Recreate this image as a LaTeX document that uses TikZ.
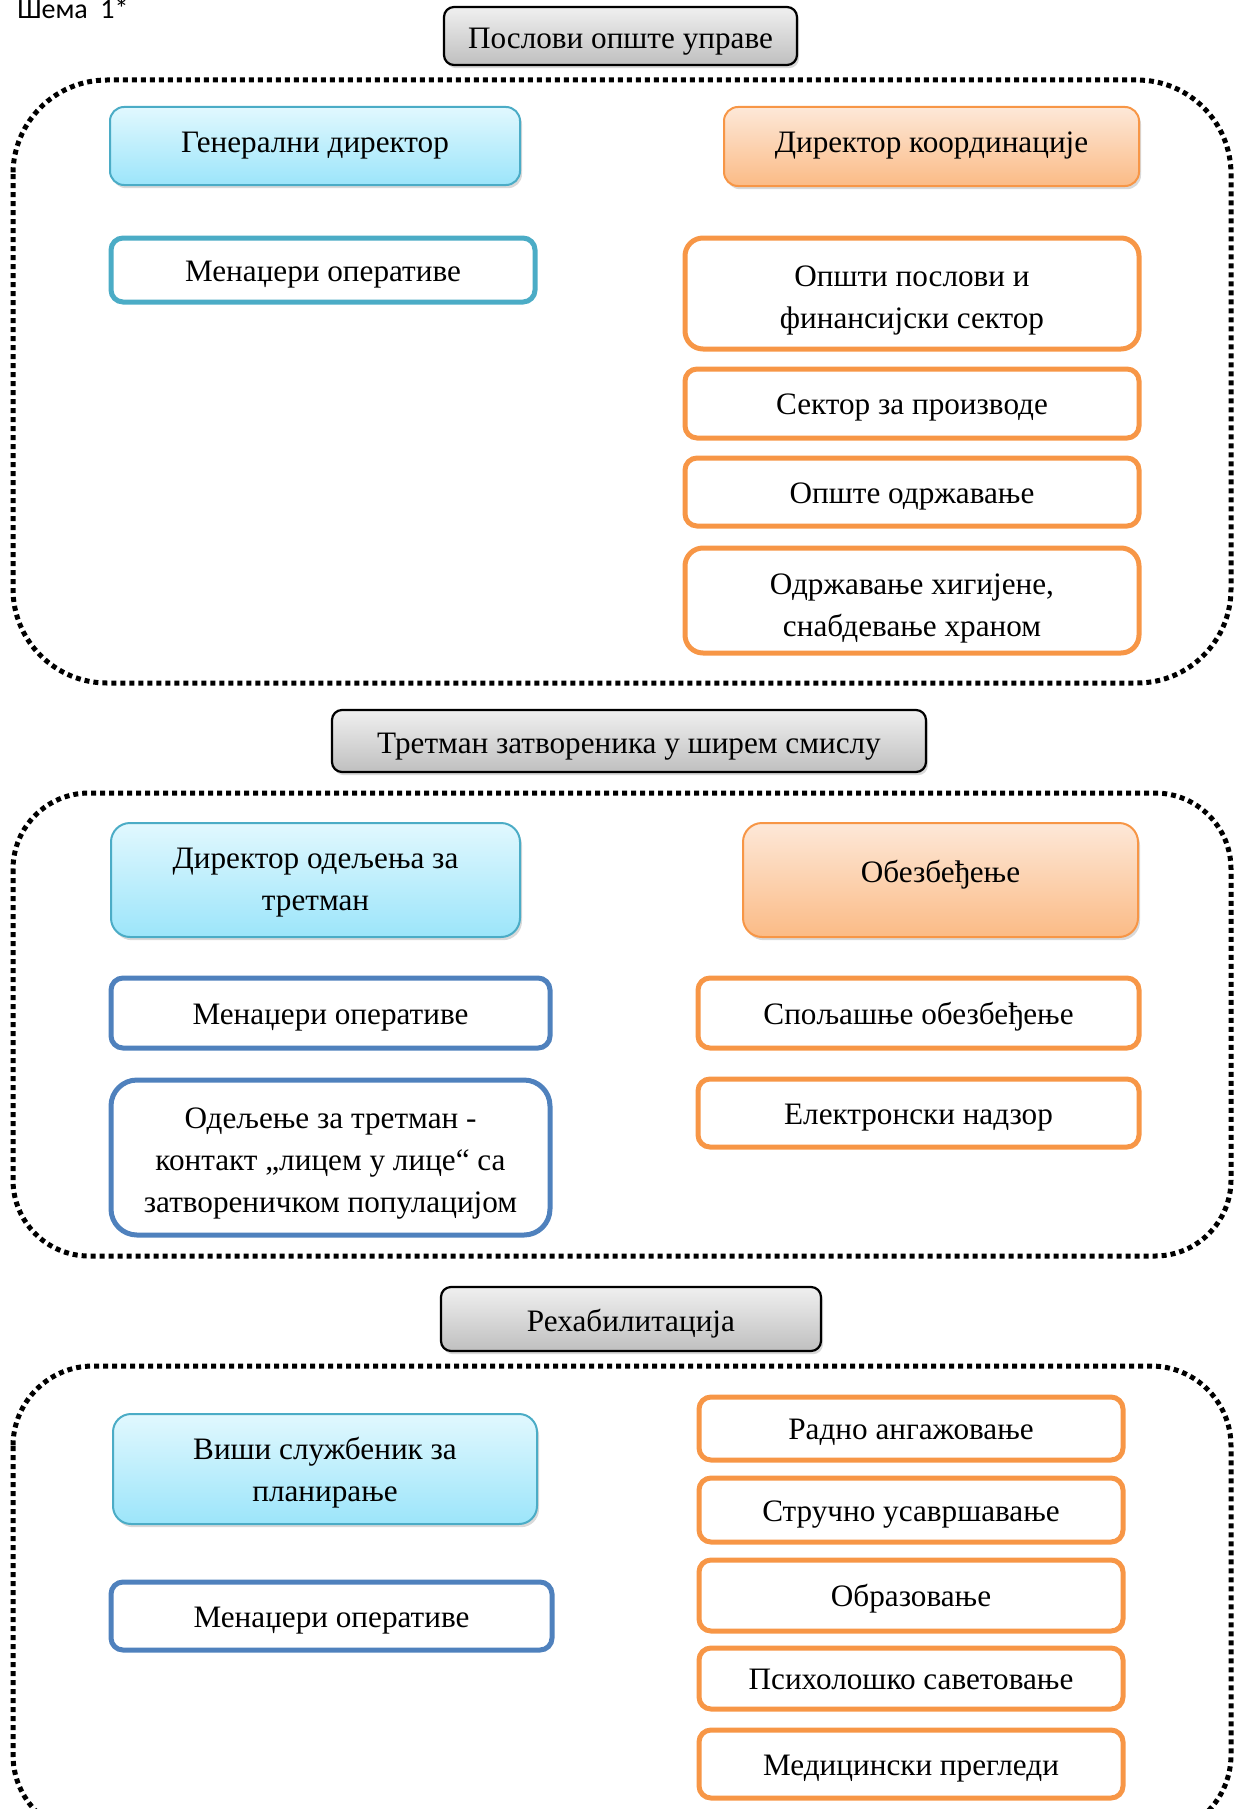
\documentclass[tikz,border=0pt]{standalone}
\usepackage{fontspec}
\setmainfont{Liberation Serif}
\newfontfamily\calib{Carlito}
\usetikzlibrary{shadows}

\definecolor{cyanline}{HTML}{4BACC6}
\definecolor{cyantop}{HTML}{E1F8FE}
\definecolor{cyanbot}{HTML}{9CE5FA}
\definecolor{orangeline}{HTML}{F79646}
\definecolor{orangetop}{HTML}{FDE8D8}
\definecolor{orangebot}{HTML}{FBBB86}
\definecolor{blueline}{HTML}{4F81BD}

% struts that set where the text sits in a box
\newlength\tsth \newlength\tstd
\newcommand\topstrut{\rule[-\tstd]{0pt}{\dimexpr\tsth+\tstd\relax}}
\newcommand\botstrut{\rule[-3.5pt]{0pt}{3.5pt}}
\newcommand\firstln[1]{\rule{0pt}{#1}}

\tikzset{
  tsh/.code={\setlength\tsth{#1}},
  tsd/.code={\setlength\tstd{#1}},
  sect/.style={draw=black, line width=2.5pt, dash pattern=on 2.5pt off 2pt},
  lbl/.style={font=\fontsize{15.6}{21}\selectfont, align=center, inner sep=0pt,
    tsh=14.7pt, tsd=3.5pt, execute at begin node=\topstrut, execute at end node=\botstrut},
  shad/.style={drop shadow={shadow xshift=1pt, shadow yshift=-1.6pt, opacity=0.3}},
  headbox/.style={lbl, tsh=16.1pt, shad, draw=black, line width=1.1pt, rounded corners=5pt, top color=gray!12, bottom color=gray!50},
  cyanbox/.style={lbl, tsh=11.5pt, tsd=5.5pt, shad, draw=cyanline, line width=1pt, rounded corners=7pt, top color=cyantop, bottom color=cyanbot},
  orangebox/.style={lbl, tsh=11.5pt, tsd=5.5pt, shad, draw=orangeline, line width=1pt, rounded corners=7pt, top color=orangetop, bottom color=orangebot},
  cyanframe/.style={lbl, draw=cyanline, line width=2.5pt, rounded corners=6pt, fill=white},
  blueframe/.style={lbl, draw=blueline, line width=2.5pt, rounded corners=6pt, fill=white},
  orangeframe/.style={lbl, draw=orangeline, line width=2.5pt, rounded corners=6pt, fill=white}
}

\begin{document}
\begin{tikzpicture}[x=0.5pt,y=-0.5pt]
\useasboundingbox (0,0) rectangle (1234,1809);
\clip (0,0) rectangle (1234,1809);

\node[font=\calib\fontsize{14}{16}\selectfont, anchor=base west, inner sep=0pt] (shema) at (17,19) {Шема~~1*};

% poslovi opste uprave
\node[headbox, minimum width=176.5pt, minimum height=29pt] (h1) at (620.5,36) {Послови опште управе};
\draw[sect, rounded corners=47pt] (13,80) rectangle (1231,683);

\node[cyanbox, minimum width=205pt, minimum height=39pt] (gendir) at (315,146) {Генерални директор};
\node[orangebox, minimum width=207.5pt, minimum height=39.5pt] (koord) at (931.5,146.5) {Директор координације};
\node[cyanframe, minimum width=212pt, minimum height=32pt] (men1) at (323,270) {Менаџери оперативе};
\node[orangeframe, minimum width=227pt, minimum height=55.5pt, rounded corners=9pt] (opsti) at (912,293.5) {\firstln{17pt}Општи послови и\\финансијски сектор};
\node[orangeframe, minimum width=227pt, minimum height=34.5pt] (sektor) at (912,403.5) {Сектор за производе};
\node[orangeframe, minimum width=227pt, minimum height=34pt] (odrz) at (912,492) {Опште одржавање};
\node[orangeframe, minimum width=227pt, minimum height=52.5pt, rounded corners=9pt] (hig) at (912,600.5) {\firstln{18.5pt}Одржавање хигијене,\\снабдевање храном};

% tretman
\node[headbox, minimum width=297pt, minimum height=31pt] (h2) at (629,741) {Третман затвореника у ширем смислу};
\draw[sect, rounded corners=38pt] (13,793) rectangle (1231,1256);

\node[cyanbox, minimum width=204.5pt, minimum height=57pt, rounded corners=9.5pt] (dirtr) at (315.5,880) {\firstln{14.5pt}Директор одељења за\\третман};
\node[orangebox, tsd=9pt, minimum width=197.5pt, minimum height=57pt, rounded corners=9.5pt] (obezb) at (940.5,880) {Обезбеђење};
\node[blueframe, minimum width=219.5pt, minimum height=35pt] (men2) at (330.5,1013) {Менаџери оперативе};
\node[blueframe, minimum width=219.5pt, minimum height=77.5pt, rounded corners=13pt] (odelj) at (330.5,1157.5) {\firstln{16pt}Одељење за третман -\\контакт „лицем у лице“ са\\затвореничком популацијом};
\node[orangeframe, minimum width=220.5pt, minimum height=35pt] (spolj) at (918.5,1013) {Спољашње обезбеђење};
\node[orangeframe, minimum width=220.5pt, minimum height=34pt] (elektr) at (918.5,1113) {Електронски надзор};

% rehabilitacija
\node[headbox, minimum width=190pt, minimum height=32pt] (h3) at (631,1319) {Рехабилитација};
\draw[sect, rounded corners=40pt] (13,1366) rectangle (1231,1835);

\node[cyanbox, minimum width=212pt, minimum height=55pt, rounded corners=9pt] (visi) at (325,1469) {\firstln{16.5pt}Виши службеник за\\планирање};
\node[blueframe, minimum width=220.5pt, minimum height=34pt] (men3) at (331.5,1616) {Менаџери оперативе};
\node[orangeframe, minimum width=212pt, minimum height=31.5pt] (radno) at (911,1428.5) {Радно ангажовање};
\node[orangeframe, minimum width=212pt, minimum height=32pt] (strucno) at (911,1510) {Стручно усавршавање};
\node[orangeframe, minimum width=212pt, minimum height=35.5pt] (obraz) at (911,1595.5) {Образовање};
\node[orangeframe, minimum width=212pt, minimum height=30.5pt] (psih) at (911,1678.5) {Психолошко саветовање};
\node[orangeframe, minimum width=212pt, minimum height=34pt] (med) at (911,1764) {Медицински прегледи};
\end{tikzpicture}
\end{document}
